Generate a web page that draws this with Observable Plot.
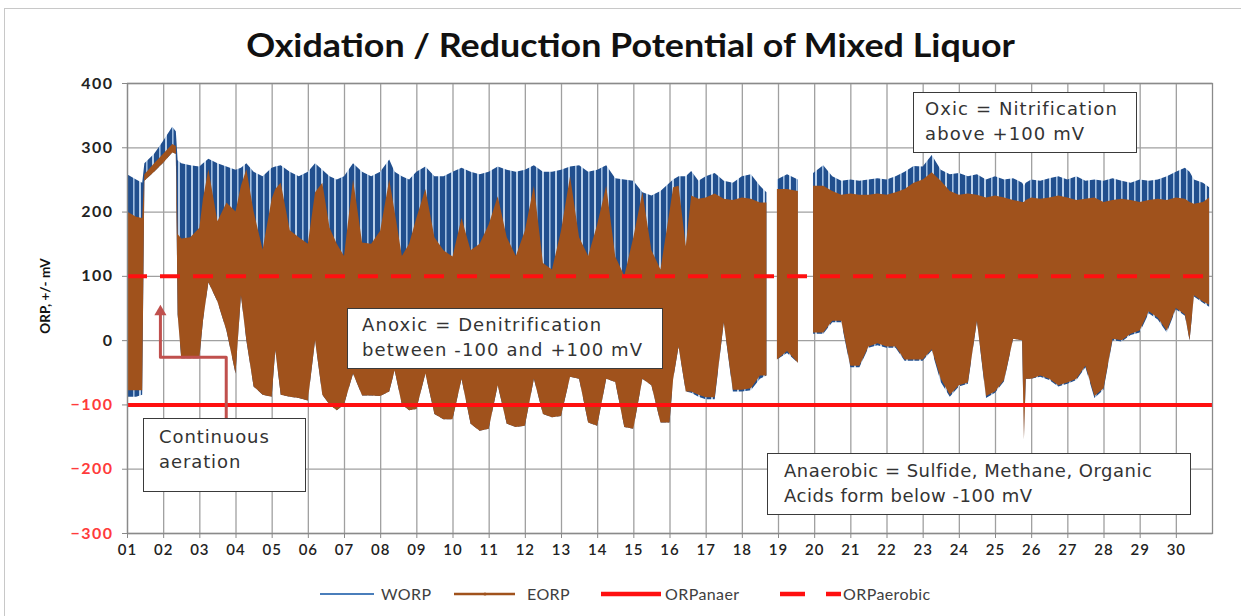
<!DOCTYPE html>
<html><head><meta charset="utf-8">
<script src="https://cdn.jsdelivr.net/npm/d3@7"></script>
<script src="https://cdn.jsdelivr.net/npm/@observablehq/plot@0.6"></script>
<style>
body{margin:0;background:#fff;}
#wrap{position:relative;width:1241px;height:616px;overflow:hidden;background:#fff;}
#frame{position:absolute;left:4px;top:8px;width:1300px;height:700px;border-left:1px solid #c8c8c8;border-top:1px solid #c8c8c8;}
#chart{position:absolute;left:0;top:0;}
#chart g[aria-label="y-axis tick label"] text{letter-spacing:1.5px;}
#chart g[aria-label="x-axis tick label"] text{letter-spacing:1px;}
#title{position:absolute;left:10px;width:1241px;top:25px;text-align:center;font:bold 32px Lato,sans-serif;color:#111;transform:scaleX(1.12);transform-origin:620px 0;}
#ylab{position:absolute;left:-5px;top:288px;width:100px;text-align:center;font:bold 13.5px Lato,sans-serif;color:#111;transform:rotate(-90deg);}
.box{position:absolute;background:#fff;border:1.5px solid #3a3a3a;box-sizing:border-box;font-family:"DejaVu Sans",sans-serif;font-size:18px;letter-spacing:0.5px;line-height:25px;color:#333;padding-top:3px;white-space:nowrap;}
#legend{position:absolute;left:0;top:580px;}
</style></head>
<body><div id="wrap"><div id="frame"></div><div id="chart"></div>
<div id="title">Oxidation / Reduction Potential of Mixed Liquor</div>
<div id="ylab">ORP, +/- mV</div>
<div class="box" style="left:913px;top:92px;width:224px;height:61px;padding-left:11px;letter-spacing:1.1px;">Oxic = Nitrification<br>above +100 mV</div>
<div class="box" style="left:347px;top:308px;width:316px;height:61px;padding-left:14px;letter-spacing:1.1px;">Anoxic = Denitrification<br>between -100 and +100 mV</div>
<div class="box" style="left:143px;top:418px;width:163px;height:74px;padding-left:15px;padding-top:5px;letter-spacing:0.9px;">Continuous<br>aeration</div>
<div class="box" style="left:767px;top:453px;width:424px;height:62px;padding-left:16px;padding-top:4px;">Anaerobic = Sulfide, Methane, Organic<br>Acids form below -100 mV</div>
<svg id="legend" width="1241" height="30"></svg>
</div>
<script>
// ---- data (day of month, ORP in mV) ----
const days = [1.0,1.25,1.42,1.48,1.75,2.0,2.25,2.35,2.4,2.5,2.75,3.0,3.1,3.25,3.5,3.75,4.0,4.15,4.3,4.5,4.75,5.0,5.1,5.25,5.5,5.75,6.0,6.2,6.4,6.6,6.8,7.0,7.25,7.5,7.75,8.0,8.25,8.4,8.6,8.8,9.0,9.25,9.5,9.75,10.0,10.25,10.5,10.75,11.0,11.25,11.5,11.75,12.0,12.25,12.5,12.75,13.0,13.25,13.5,13.75,14.0,14.25,14.5,14.75,15.0,15.25,15.5,15.75,16.0,16.1,16.25,16.45,16.6,16.8,17.0,17.25,17.5,17.75,18.0,18.25,18.5,18.68,18.8,18.97,19.25,19.55,19.75,19.97,20.25,20.5,20.75,21.0,21.25,21.5,21.75,22.0,22.25,22.5,22.75,23.0,23.25,23.5,23.75,24.0,24.25,24.5,24.75,25.0,25.25,25.5,25.75,25.8,25.85,26.0,26.25,26.5,26.75,27.0,27.25,27.5,27.75,28.0,28.25,28.5,28.75,29.0,29.25,29.5,29.75,30.0,30.25,30.38,30.5,30.75,30.92];
const worpHigh = [258,250,245,275,290,310,332,325,280,275,272,270,275,282,275,270,265,268,275,262,255,268,270,272,262,255,262,275,265,255,250,255,275,262,255,262,281,262,255,250,262,270,255,255,262,268,262,258,262,270,265,262,265,272,262,262,265,270,272,262,265,272,252,250,248,230,225,232,245,250,255,255,263,248,255,260,248,245,255,258,240,230,null,250,258,250,null,260,272,255,248,250,248,250,252,250,255,262,271,270,288,265,258,260,255,258,250,255,250,252,245,240,245,250,248,252,255,250,255,248,250,248,252,248,245,250,248,250,255,262,268,262,250,245,238];
const worpLow = [-88,-88,-85,248,262,276,292,290,40,-28,-28,-28,30,90,60,15,-52,70,0,-72,-85,-88,-15,-85,-88,-90,-94,0,-85,-100,-109,-100,-52,-86,-86,-87,-80,-47,-100,-109,-107,-52,-115,-123,-123,-60,-130,-141,-138,-70,-130,-135,-133,-60,-115,-120,-118,-57,-60,-128,-133,-60,-65,-135,-138,-60,-70,-128,-128,-61,-10,-80,-82,-88,-92,-92,28,-80,-80,-78,-60,-55,null,-30,-20,-35,null,10,10,28,28,-42,-42,-12,-8,-12,-12,-32,-32,-32,-16,-65,-88,-72,-68,30,-90,-82,-64,2,0,-154,-60,-60,-57,-62,-72,-68,-62,-42,-90,-77,0,-2,8,12,42,32,12,48,38,0,68,58,52];
const eorpHigh = [200,192,190,258,275,290,305,302,165,158,160,175,220,266,185,214,200,240,266,200,141,220,235,245,171,160,150,230,245,175,150,131,250,152,150,170,250,200,131,150,190,235,160,140,130,190,140,150,180,224,160,131,170,240,120,110,170,255,160,131,180,240,130,100,160,230,140,110,200,238,240,146,225,220,222,228,220,218,222,220,214,214,null,235,235,232,null,240,240,232,226,228,226,226,228,226,230,235,245,250,261,248,232,226,228,226,222,225,222,218,215,215,218,222,220,222,225,222,218,220,222,215,218,220,218,215,218,220,218,222,220,215,212,215,222];
const eorpLow = [-78,-78,-78,248,262,276,292,290,40,-28,-28,-28,30,90,60,15,-52,70,0,-72,-85,-88,-15,-85,-88,-90,-94,0,-85,-100,-109,-100,-52,-86,-86,-87,-80,-47,-100,-109,-107,-52,-115,-123,-123,-60,-130,-141,-138,-70,-130,-135,-133,-60,-115,-120,-118,-57,-60,-128,-133,-60,-65,-135,-138,-60,-70,-128,-128,-61,-10,-80,-80,-85,-89,-89,28,-77,-77,-75,-55,-55,null,-30,-17,-35,null,12,12,30,30,-40,-40,-10,-5,-10,-10,-30,-30,-30,-14,-60,-85,-70,-66,30,-87,-80,-62,2,0,-154,-60,-60,-55,-60,-70,-66,-60,-40,-87,-75,2,0,10,15,45,35,15,50,40,0,70,60,55];
const orpAnaer = -100;
const orpAerobic = 100;
const dayTicks = [1,2,3,4,5,6,7,8,9,10,11,12,13,14,15,16,17,18,19,20,21,22,23,24,25,26,27,28,29,30];
const dayLabels = ["01","02","03","04","05","06","07","08","09","10","11","12","13","14","15","16","17","18","19","20","21","22","23","24","25","26","27","28","29","30"];
const posTicks = [0,100,200,300,400];
const negTicks = [-100,-200,-300];
// annotation arrow (continuous aeration), in data coordinates
const arrowDays = [3.73,3.73,1.91,1.91];
const arrowValues = [-125,-26,-26,44];
const arrowTip = [{day:1.91, v:45}];

const rows = days.map((d,i)=>({day:d, wHi:worpHigh[i], wLo:worpLow[i], eHi:eorpHigh[i], eLo:eorpLow[i]}));
const arrow = arrowDays.map((d,i)=>({day:d, v:arrowValues[i]}));

const gridCol = "#a0a0a0";
const svg = Plot.plot({
  width:1241, height:580,
  marginLeft:127, marginRight:29, marginTop:83, marginBottom:47,
  style:{fontFamily:"Lato, sans-serif", background:"transparent", overflow:"visible"},
  x:{domain:[1,31]},
  y:{domain:[-300,400]},
  marks:[
    Plot.gridY(posTicks.concat(negTicks), {stroke:gridCol, strokeOpacity:1, strokeWidth:1.3}),
    Plot.gridX(dayTicks, {stroke:gridCol, strokeOpacity:1, strokeWidth:1.3}),
    Plot.areaY(rows, {x:"day", y1:"wLo", y2:"wHi", fill:"url(#worpPat)"}),
    Plot.areaY(rows, {x:"day", y1:"eLo", y2:"eHi", fill:"#a0521c"}),
    Plot.ruleY([orpAerobic], {stroke:"#ff1010", strokeWidth:4, strokeDasharray:"20,13"}),
    Plot.ruleY([orpAnaer], {stroke:"#ff1010", strokeWidth:4}),
    Plot.line(arrow, {x:"day", y:"v", stroke:"#c0504d", strokeWidth:3}),
    Plot.dot(arrowTip, {x:"day", y:"v", symbol:"triangle", r:4.5, fill:"#c0504d", stroke:null}),
    Plot.frame({stroke:"#8a8a8a", strokeWidth:1.3}),
    Plot.axisY(posTicks, {tickSize:5, tickPadding:9, fontSize:16, fontWeight:"bold", fill:"#222", stroke:"#888", label:null}),
    Plot.axisY(negTicks, {tickSize:5, tickPadding:9, fontSize:16, fontWeight:"bold", fill:"#ff3b3b", stroke:"#888", label:null}),
    Plot.axisX(dayTicks, {tickSize:5, tickPadding:6, fontSize:15, fontWeight:600, fill:"#222", stroke:"#888", tickFormat:d=>dayLabels[d-1], label:null})
  ]
});
const defs = d3.select(svg).insert("defs", ":first-child");
const pat = defs.append("pattern").attr("id","worpPat").attr("patternUnits","userSpaceOnUse").attr("width",13).attr("height",10);
pat.append("rect").attr("width",13).attr("height",10).attr("fill","#214f8e");
pat.append("rect").attr("x",3).attr("width",1.6).attr("height",10).attr("fill","#9ebde0");
pat.append("rect").attr("x",9).attr("width",2).attr("height",10).attr("fill","#b9d0ea");
document.getElementById("chart").appendChild(svg);

// legend
const lg = d3.select("#legend");
const ly = 14;
lg.append("line").attr("x1",320).attr("x2",374).attr("y1",ly).attr("y2",ly).attr("stroke","#4a7ebb").attr("stroke-width",2);
lg.append("line").attr("x1",454).attr("x2",515).attr("y1",ly).attr("y2",ly).attr("stroke","#a0521c").attr("stroke-width",2.5);
lg.append("circle").attr("cx",485).attr("cy",ly).attr("r",1.6).attr("fill","#a0521c");
lg.append("line").attr("x1",601).attr("x2",661).attr("y1",ly).attr("y2",ly).attr("stroke","#ff1010").attr("stroke-width",4.5);
lg.append("line").attr("x1",780).attr("x2",805).attr("y1",ly).attr("y2",ly).attr("stroke","#ff1010").attr("stroke-width",4.5);
lg.append("line").attr("x1",826).attr("x2",841).attr("y1",ly).attr("y2",ly).attr("stroke","#ff1010").attr("stroke-width",4.5);
const legendItems = [["WORP",381],["EORP",527],["ORPanaer",665],["ORPaerobic",843]];
legendItems.forEach(([t,x])=>lg.append("text").attr("x",x).attr("y",ly+5.5).text(t)
  .attr("font-family","Lato, sans-serif").attr("font-size",16).attr("letter-spacing","0.4px").attr("fill","#404040"));
</script></body></html>
